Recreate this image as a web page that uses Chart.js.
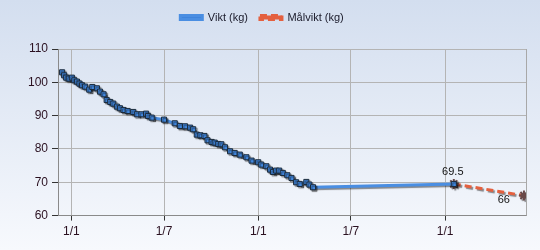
<!DOCTYPE html>
<html>
<head>
<meta charset="utf-8">
<script src="https://cdn.jsdelivr.net/npm/chart.js@4/dist/chart.umd.min.js"></script>
<style>
  html, body { margin: 0; padding: 0; }
  body { width: 540px; height: 250px; background: linear-gradient(#d3deef, #f7f9fd); }
  #wrap { width: 540px; height: 250px; position: relative; }
</style>
</head>
<body>
<div id="wrap"><canvas id="chart"></canvas></div>
<script>
// days since first 1/1
const viktDays = [-18, -14, -10, -5, 1, 6, 11, 16, 21, 27, 35, 41, 50, 56, 63, 69, 76, 82, 89, 95,
  102, 110, 121, 128, 137, 146, 150, 157, 181, 202, 212, 222, 232, 238, 245, 252, 260, 266, 274, 280,
  287, 293, 300, 310, 319, 329, 342, 352, 365, 371, 381, 388, 394, 400, 406, 413, 422, 430, 439, 446,
  459, 465, 472, 747];
const viktValues = [103.0, 102.1, 101.4, 101.1, 101.4, 100.6, 100.2, 99.6, 99.1, 98.7, 97.8, 98.6, 98.2, 97.2, 96.4, 94.7, 94.1, 93.6, 92.7, 92.2,
  91.7, 91.4, 91.1, 90.4, 90.4, 90.6, 89.9, 89.4, 88.8, 87.7, 86.9, 86.8, 86.4, 85.9, 84.3, 84.1, 83.9, 82.6, 82.1, 81.9,
  81.5, 81.4, 80.5, 79.3, 78.8, 78.3, 77.5, 76.5, 76.0, 75.3, 74.8, 73.8, 73.1, 73.5, 73.5, 72.8, 72.1, 71.3, 70.0, 69.5,
  70.1, 69.3, 68.5, 69.5];
const malDays = [747, 884];
const malValues = [69.5, 66];
const tickDays = [0, 181, 365, 546, 730];
const tickLabels = ['1/1', '1/7', '1/1', '1/7', '1/1'];

const font = 'Liberation Sans, Arial, sans-serif';

// mer luft under legenden, och flytta den lite åt vänster
const legendGapPlugin = {
  id: 'legendGap',
  beforeInit(chart) {
    const fit = chart.legend.fit;
    chart.legend.fit = function () {
      fit.bind(chart.legend)();
      this.height += 16;
    };
  },
  afterLayout(chart) {
    chart.legend.left -= 13;
    chart.legend.right -= 13;
  }
};

// skugga under linjer och punkter
const shadowPlugin = {
  id: 'shadow',
  beforeDatasetsDraw(chart) {
    const ctx = chart.ctx;
    ctx.save();
    ctx.shadowColor = 'rgba(0,0,0,0.45)';
    ctx.shadowOffsetX = 1.5;
    ctx.shadowOffsetY = 1.5;
    ctx.shadowBlur = 1;
  },
  afterDatasetsDraw(chart) {
    chart.ctx.restore();
  }
};

// högerkant + värdeetiketter
const extrasPlugin = {
  id: 'extras',
  afterDraw(chart) {
    const ctx = chart.ctx;
    const a = chart.chartArea;
    ctx.save();
    ctx.strokeStyle = '#a8a8a8';
    ctx.lineWidth = 1;
    ctx.beginPath();
    ctx.moveTo(Math.round(a.right) + 0.5, a.top);
    ctx.lineTo(Math.round(a.right) + 0.5, a.bottom);
    ctx.stroke();

    const meta = chart.getDatasetMeta(1);
    ctx.fillStyle = '#111';
    ctx.font = '11px ' + font;
    ctx.textAlign = 'center';
    const p0 = meta.data[0];
    ctx.fillText(String(malValues[0]), p0.x - 1, p0.y - 12);
    const p1 = meta.data[1];
    ctx.textAlign = 'right';
    ctx.fillText(String(malValues[1]), p1.x - 14, p1.y + 4);
    ctx.restore();
  }
};

new Chart(document.getElementById('chart'), {
  type: 'line',
  data: {
    datasets: [
      {
        label: 'Vikt (kg)',
        data: viktDays.map((d, i) => ({ x: d, y: viktValues[i] })),
        borderColor: '#4a8ee2',
        backgroundColor: '#3f84dc',
        borderWidth: 3,
        pointStyle: 'rect',
        pointRadius: 3.6,
        pointBorderColor: '#1b2a3a',
        pointBorderWidth: 1,
        pointBackgroundColor: '#4389e0',
        tension: 0
      },
      {
        label: 'Målvikt (kg)',
        data: malDays.map((d, i) => ({ x: d, y: malValues[i] })),
        borderColor: '#e4603f',
        backgroundColor: '#e4603f',
        borderWidth: 3,
        borderDash: [7, 4],
        pointStyle: 'star',
        pointRadius: 5,
        pointBorderColor: '#6a4a4a',
        pointBorderWidth: 2,
        tension: 0
      }
    ]
  },
  options: {
    responsive: true,
    maintainAspectRatio: false,
    animation: false,
    layout: { padding: { top: 0, right: 14, left: 24, bottom: 7 } },
    plugins: {
      legend: {
        position: 'top',
        labels: {
          color: '#1a1a2a',
          font: { family: font, size: 11 },
          boxWidth: 22,
          boxHeight: 4,
          padding: 12
        }
      },
      tooltip: { enabled: false }
    },
    scales: {
      x: {
        type: 'linear',
        min: -26,
        max: 888,
        afterBuildTicks: scale => { scale.ticks = tickDays.map(v => ({ value: v })); },
        ticks: {
          color: '#2a1020',
          font: { family: font, size: 12 },
          padding: 4,
          maxRotation: 0,
          autoSkip: false,
          callback: (v, i) => tickLabels[i]
        },
        grid: { color: '#b4b4b4', tickLength: 5, tickColor: '#333' },
        border: { color: '#8a8a8a' }
      },
      y: {
        min: 60,
        max: 110,
        ticks: {
          stepSize: 10,
          color: '#2a1020',
          font: { family: font, size: 12 },
          padding: 4
        },
        grid: { color: '#b4b4b4', tickLength: 6, tickColor: '#333' },
        border: { color: '#8a8a8a' }
      }
    }
  },
  plugins: [legendGapPlugin, shadowPlugin, extrasPlugin]
});
</script>
</body>
</html>
